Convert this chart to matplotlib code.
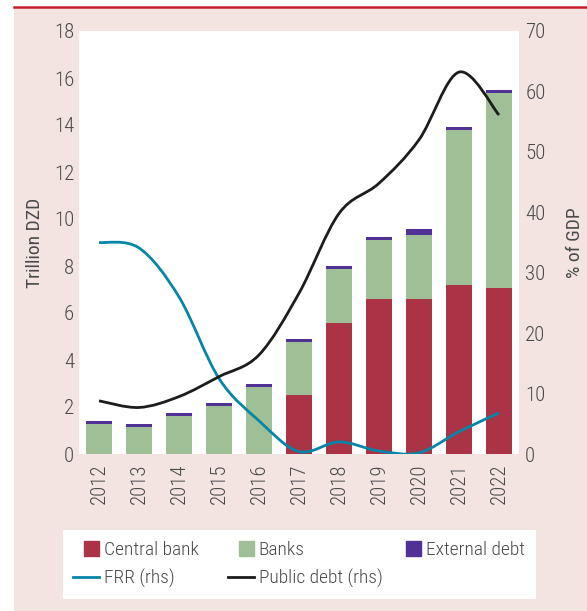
import matplotlib
matplotlib.use('Agg')
import matplotlib.pyplot as plt
from matplotlib import font_manager
from matplotlib.patches import Rectangle, PathPatch, Patch
from matplotlib.path import Path
from matplotlib.lines import Line2D
from matplotlib.legend_handler import HandlerPatch
import numpy as np

# ---------------- data ----------------
years = ["2012", "2013", "2014", "2015", "2016", "2017", "2018", "2019", "2020", "2021", "2022"]
central_bank = [0, 0, 0, 0, 0, 2.52, 5.59, 6.60, 6.60, 7.19, 7.08]
banks = [1.28, 1.15, 1.62, 2.04, 2.85, 2.25, 2.28, 2.50, 2.72, 6.60, 8.28]
external_debt = [0.12, 0.13, 0.12, 0.13, 0.13, 0.12, 0.13, 0.13, 0.25, 0.12, 0.13]
frr = [35.0, 34.1, 26.0, 12.5, 5.5, 0.4, 2.0, 0.5, 0.2, 3.7, 6.8]
public_debt = [8.8, 7.7, 9.5, 12.8, 16.4, 26.6, 39.8, 44.8, 52.0, 63.2, 56.1]
left_ticks = list(range(0, 19, 2))
right_ticks = list(range(0, 71, 10))

# ---------------- style ----------------
PINK = '#f3e4e2'
TOPRED = '#c8202e'
RED = '#aa3345'
GREEN = '#9fc096'
PURPLE = '#503196'
BLUE = '#0586a9'
BLACK = '#1c1c1c'
TXT = '#4a4a4a'

available = {f.name for f in font_manager.fontManager.ttflist}
candidates = [('Liberation Sans Narrow', 16, 15, 15),
              ('Roboto Condensed', 15, 14, 14),
              ('Open Sans Condensed', 15, 14, 14),
              ('DejaVu Sans Condensed', 13, 12.5, 12),
              ('Liberation Sans', 14, 13.5, 12.5)]
FAM, TS, LS, GS = 'DejaVu Sans', 13, 12, 11.5
for fam, ts, ls, gs in candidates:
    if fam in available:
        FAM, TS, LS, GS = fam, ts, ls, gs
        break
plt.rcParams['font.family'] = [FAM, 'DejaVu Sans']
plt.rcParams['font.weight'] = 'light'

W, H = 587, 611
fig = plt.figure(figsize=(W / 100, H / 100), dpi=100, facecolor='white')


def fx(px):
    return px / W


def fy(py):
    return 1 - py / H


fig.add_artist(Rectangle((fx(14), 0), 1 - fx(14), fy(8), transform=fig.transFigure,
                         facecolor=PINK, edgecolor='none', zorder=-10))
fig.add_artist(Line2D([fx(14), 1], [fy(7), fy(7)], transform=fig.transFigure,
                      color=TOPRED, lw=1.8, zorder=-9))
fig.add_artist(Rectangle((fx(63), fy(599)), fx(536) - fx(63), fy(530) - fy(599),
                         transform=fig.transFigure, facecolor='white', edgecolor='none', zorder=-8))

ax = fig.add_axes([fx(79), fy(454), fx(519) - fx(79), fy(31) - fy(454)])
ax.set_facecolor('white')

x = np.arange(len(years))
cb = np.array(central_bank)
bk = np.array(banks)
ex = np.array(external_debt)
bw = 0.67
ax.bar(x, cb, bw, color=RED, linewidth=0)
ax.bar(x, bk, bw, bottom=cb, color=GREEN, linewidth=0)
ax.bar(x, ex, bw, bottom=cb + bk, color=PURPLE, linewidth=0)
ax.set_xlim(-0.5, len(years) - 0.5)
ax.set_ylim(0, 18)
ax.set_xticks(x)
ax.set_xticklabels(years, rotation=90)
ax.set_yticks(left_ticks)
ax.tick_params(axis='both', length=0, colors=TXT, labelsize=TS)
ax.tick_params(axis='y', pad=3.5)
ax.tick_params(axis='x', pad=6.5)
for s in ax.spines.values():
    s.set_visible(False)
ax.set_ylabel('Trillion DZD', fontsize=LS, color=TXT, labelpad=7)

ax2 = ax.twinx()
ax2.set_ylim(0, 70)
ax2.set_yticks(right_ticks)
ax2.tick_params(axis='y', length=0, colors=TXT, labelsize=TS, pad=4.5)
for s in ax2.spines.values():
    s.set_visible(False)
ax2.set_ylabel('% of GDP', fontsize=LS, color=TXT, labelpad=14.5)


def smooth_path(xs, ys):
    pts = np.column_stack([xs, ys]).astype(float)
    n = len(pts)
    verts = [pts[0]]
    codes = [Path.MOVETO]
    for i in range(n - 1):
        p0 = pts[i - 1] if i > 0 else pts[i]
        p1 = pts[i]
        p2 = pts[i + 1]
        p3 = pts[i + 2] if i + 2 < n else pts[i + 1]
        c1 = p1 + (p2 - p0) / 6.0
        c2 = p2 - (p3 - p1) / 6.0
        verts += [c1, c2, p2]
        codes += [Path.CURVE4] * 3
    return Path(verts, codes)


ax2.add_patch(PathPatch(smooth_path(x, frr), facecolor='none', edgecolor=BLUE,
                        lw=2.0, capstyle='butt', joinstyle='round'))
ax2.add_patch(PathPatch(smooth_path(x, public_debt), facecolor='none', edgecolor=BLACK,
                        lw=2.0, capstyle='butt', joinstyle='round'))


def square_patch(legend, orig_handle, xdescent, ydescent, width, height, fontsize):
    s = height * 1.1
    return Rectangle((-xdescent + width - s, -ydescent + (height - s) / 2), s, s)


columns = [
    (73, [Patch(color=RED, label='Central bank'),
          Line2D([], [], color=BLUE, lw=2.0, label='FRR (rhs)')]),
    (228, [Patch(color=GREEN, label='Banks'),
           Line2D([], [], color=BLACK, lw=2.0, label='Public debt (rhs)')]),
    (395, [Patch(color=PURPLE, label='External debt')]),
]
for xpix, hs in columns:
    leg = fig.legend(handles=hs, ncol=1, frameon=False, loc='upper left',
                     bbox_to_anchor=(fx(xpix), fy(541)),
                     bbox_transform=fig.transFigure, borderaxespad=0, borderpad=0,
                     fontsize=GS, handlelength=26 / (GS * 100 / 72), handletextpad=0.25,
                     labelspacing=0.5,
                     handler_map={Patch: HandlerPatch(patch_func=square_patch)})
    for t in leg.get_texts():
        t.set_color(TXT)

fig.savefig('out.png', dpi=100, facecolor='white')
